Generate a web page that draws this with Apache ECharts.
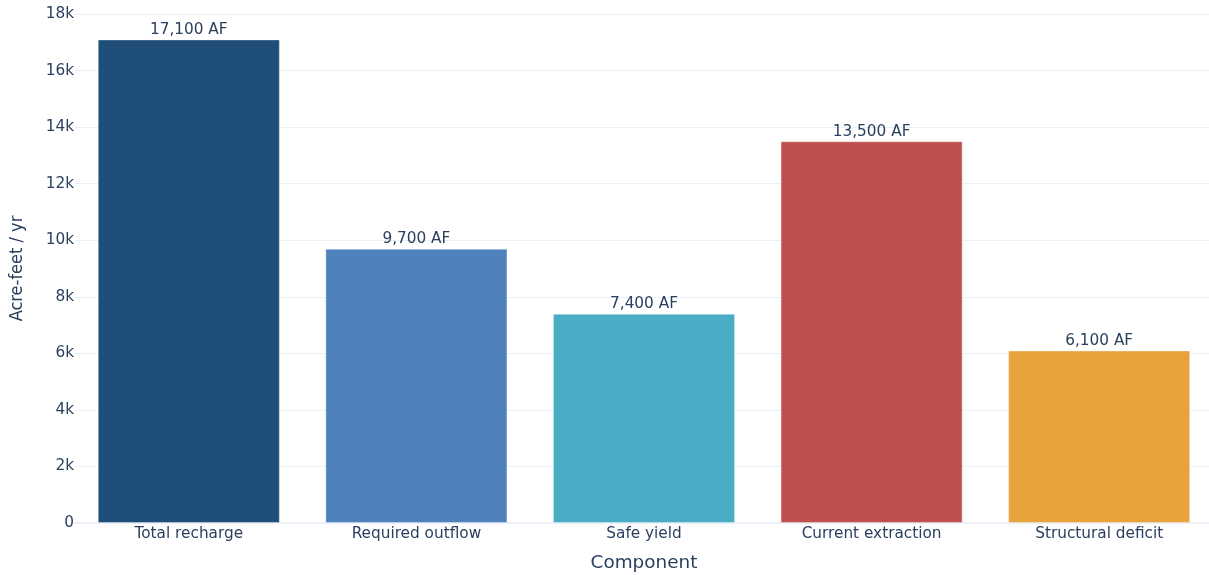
<!DOCTYPE html>
<html><head><meta charset="utf-8">
<script src="https://cdn.jsdelivr.net/npm/echarts@6/dist/echarts.min.js"></script>
<style>html,body{margin:0;padding:0;background:#fff}#c{width:1209px;height:575px}</style>
</head><body><div id="c"></div>
<script>
const categories = ["Total recharge","Required outflow","Safe yield","Current extraction","Structural deficit"];
const values = [17100, 9700, 7400, 13500, 6100];
const colors = ["#1f4e79","#4f81bd","#4bacc6","#c0504d","#e8a33d"];
const yTicks = [0, 2000, 4000, 6000, 8000, 10000, 12000, 14000, 16000, 18000];

const txt = "#2a3f5f";
const font = "DejaVu Sans";
const chart = echarts.init(document.getElementById('c'));
chart.setOption({
  animation: false,
  grid: {left: 75, right: -4, top: 14, bottom: 52, containLabel: false, outerBoundsMode: 'none'},
  xAxis: {
    type: 'category', data: categories,
    name: 'Component', nameLocation: 'middle', nameGap: 31,
    nameTextStyle: {color: txt, fontSize: 18.4, fontFamily: font},
    axisLine: {show: true, lineStyle: {color: '#ebf0f8', width: 2}},
    axisTick: {show: false},
    axisLabel: {color: txt, fontSize: 15.3, fontFamily: font, margin: 4}
  },
  yAxis: {
    type: 'value', min: yTicks[0], max: yTicks[yTicks.length-1], interval: 2000,
    name: 'Acre-feet / yr', nameLocation: 'middle', nameGap: 49, nameRotate: 90,
    nameTextStyle: {color: txt, fontSize: 18, fontFamily: "DejaVu Sans Condensed, DejaVu Sans"},
    axisLine: {show: false}, axisTick: {show: false},
    axisLabel: {color: txt, fontSize: 15.3, fontFamily: font, margin: 1, padding: [3, 0, 0, 0],
      formatter: v => v === 0 ? '0' : (v/1000) + 'k'},
    splitLine: {lineStyle: {color: '#ebf0f8', width: 1}}
  },
  series: [{
    type: 'bar', barCategoryGap: '20%',
    data: values.map((v, i) => ({value: v, itemStyle: {color: colors[i]}})),
    itemStyle: {borderColor: 'rgba(255,255,255,0.35)', borderWidth: 1},
    label: {show: true, position: 'top', distance: 2, color: txt, fontSize: 15.3, fontFamily: font,
      formatter: p => p.value.toLocaleString('en-US') + ' AF'}
  }]
});
</script></body></html>
